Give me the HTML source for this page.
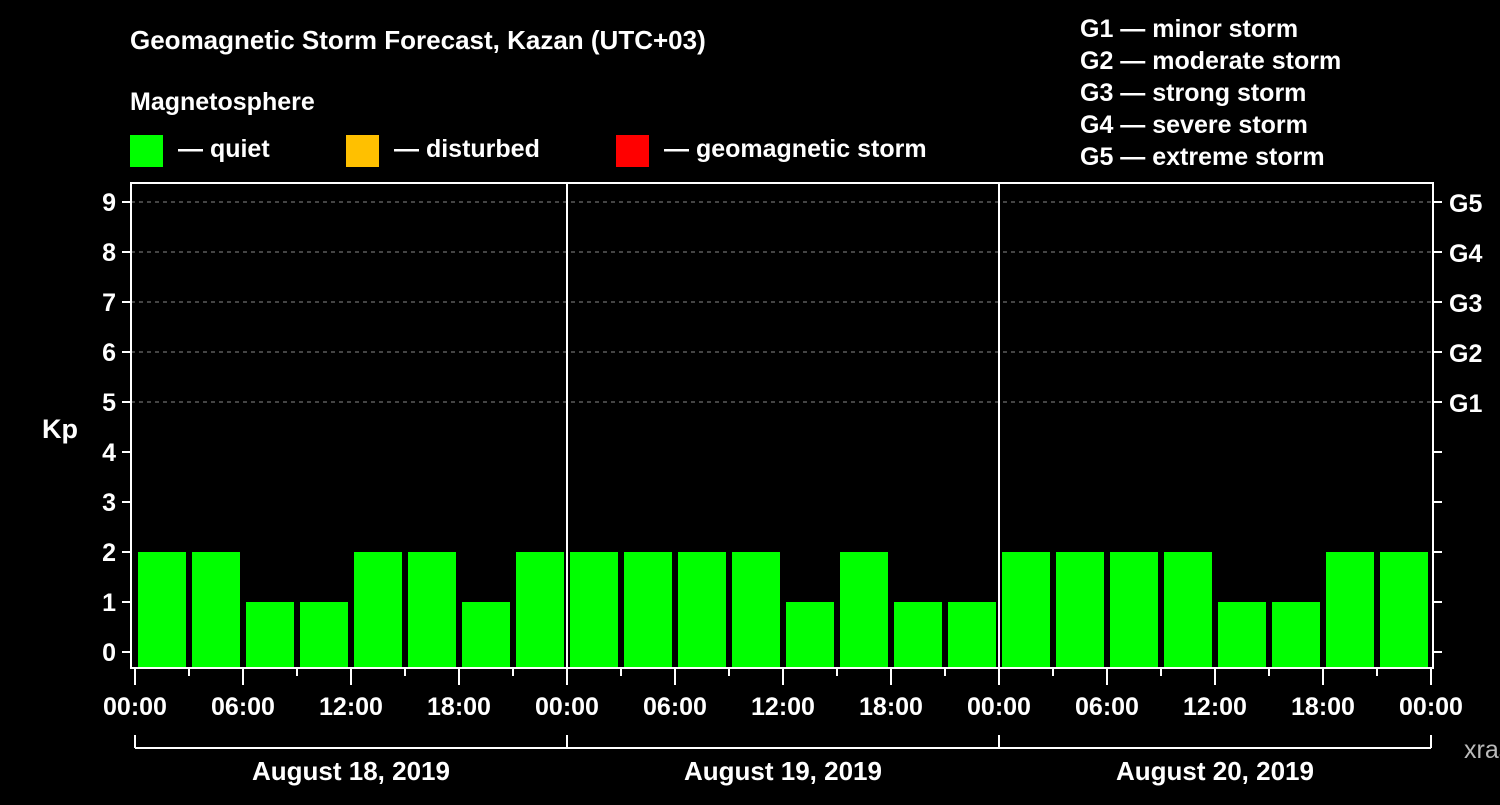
<!DOCTYPE html>
<html><head><meta charset="utf-8"><style>
body{margin:0;background:#000;}
svg text{font-family:"Liberation Sans",sans-serif;font-weight:bold;fill:#fff;}
</style></head><body>
<svg id="c" width="1500" height="800" viewBox="0 0 1500 800">
<rect width="1500" height="800" fill="#000"/>
<text x="130" y="49" font-size="26">Geomagnetic Storm Forecast, Kazan (UTC+03)</text>
<text x="130" y="110" font-size="25">Magnetosphere</text>
<g><rect x="130" y="135" width="33" height="32" fill="#00ff00"/><text x="178" y="157" font-size="25">— quiet</text></g>
<g><rect x="346" y="135" width="33" height="32" fill="#ffc000"/><text x="394" y="157" font-size="25">— disturbed</text></g>
<g><rect x="616" y="135" width="33" height="32" fill="#ff0000"/><text x="664" y="157" font-size="25">— geomagnetic storm</text></g>
<g font-size="25">
<text x="1080" y="37">G1 — minor storm</text>
<text x="1080" y="69">G2 — moderate storm</text>
<text x="1080" y="101">G3 — strong storm</text>
<text x="1080" y="133">G4 — severe storm</text>
<text x="1080" y="165">G5 — extreme storm</text>
</g>
<text x="42" y="438" font-size="27">Kp</text>
<text x="1464" y="758" font-size="25" fill="#bbb" style="fill:#bbb;font-weight:normal">xras.ru</text>
<g id="plot"></g>
</svg>
<script>
const kpValues=[2,2,1,1,2,2,1,2, 2,2,2,2,1,2,1,1, 2,2,2,2,1,1,2,2];
const yTicks=[0,1,2,3,4,5,6,7,8,9];
const gLabels=["G1","G2","G3","G4","G5"];
const gLevels=[5,6,7,8,9];
const xTickLabels=["00:00","06:00","12:00","18:00","00:00","06:00","12:00","18:00","00:00","06:00","12:00","18:00","00:00"];
const dayLabels=["August 18, 2019","August 19, 2019","August 20, 2019"];
const NS="http://www.w3.org/2000/svg";
const g=document.getElementById('plot');
const x0=135, hw=18; // px per hour
const xs=h=>x0+h*hw;
const ys=v=>652-50*v;
function el(t,a,p){const e=document.createElementNS(NS,t);for(const k in a)e.setAttribute(k,a[k]);(p||g).appendChild(e);return e;}
// grid
gLevels.forEach(v=>{const l=el('line',{x1:131,x2:1433,y1:ys(v),y2:ys(v),stroke:'#888','stroke-dasharray':'4,4','stroke-width':1});

});
// bars
kpValues.forEach((v,i)=>{const b=el('rect',{x:xs(i*3)+3,y:ys(v),width:48,height:667-ys(v),fill:'#00ff00'});

});
// frame
const f=el('rect',{x:131,y:183,width:1302,height:485,fill:'none',stroke:'#fff','stroke-width':2});


[1,2].forEach(d=>{const l=el('line',{x1:xs(d*24),x2:xs(d*24),y1:183,y2:668,stroke:'#fff','stroke-width':2});

});
// y ticks
yTicks.forEach(v=>{el('line',{x1:122,x2:131,y1:ys(v),y2:ys(v),stroke:'#fff','stroke-width':2});
el('line',{x1:1433,x2:1442,y1:ys(v),y2:ys(v),stroke:'#fff','stroke-width':2});
const t=el('text',{x:116,y:ys(v)+9,'font-size':25,'text-anchor':'end'});t.textContent=v;

});
gLabels.forEach((s,i)=>{const t=el('text',{x:1449,y:ys(gLevels[i])+10,'font-size':25});t.textContent=s;

});
// x ticks
for(let h=0;h<=72;h+=3){const long=h%6===0;el('line',{x1:xs(h),x2:xs(h),y1:669,y2:long?685:676,stroke:'#fff','stroke-width':2});}
xTickLabels.forEach((s,i)=>{const t=el('text',{x:xs(i*6),y:715,'font-size':25,'text-anchor':'middle'});t.textContent=s;

});
// day bracket
el('line',{x1:xs(0),x2:xs(72),y1:748,y2:748,stroke:'#fff','stroke-width':2});
for(let d=0;d<=3;d++)el('line',{x1:xs(d*24),x2:xs(d*24),y1:735,y2:748,stroke:'#fff','stroke-width':2});
dayLabels.forEach((s,i)=>{const t=el('text',{x:xs(i*24+12),y:780,'font-size':26,'text-anchor':'middle'});t.textContent=s;

});
</script>
</body></html>
